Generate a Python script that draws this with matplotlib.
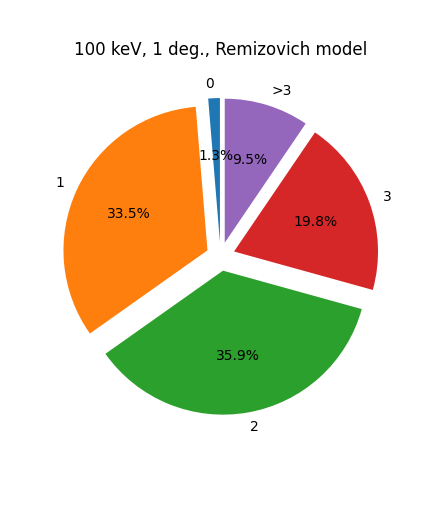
import matplotlib
matplotlib.use("Agg")
import matplotlib.pyplot as plt

labels = ["0", "1", "2", "3", ">3"]
fractions = [1.3, 33.5, 35.9, 19.8, 9.5]
explode = [0.1, 0.1, 0.1, 0.1, 0.1]

fig = plt.figure(figsize=(4.32, 5.09), dpi=100)
ax = fig.add_axes([0.0938, 0.1425, 0.8333, 0.7073])
ax.pie(fractions, labels=labels, explode=explode, autopct="%1.1f%%", startangle=90)
ax.set_title("100 keV, 1 deg., Remizovich model", pad=15.5)

fig.savefig("out.png", dpi=100)
